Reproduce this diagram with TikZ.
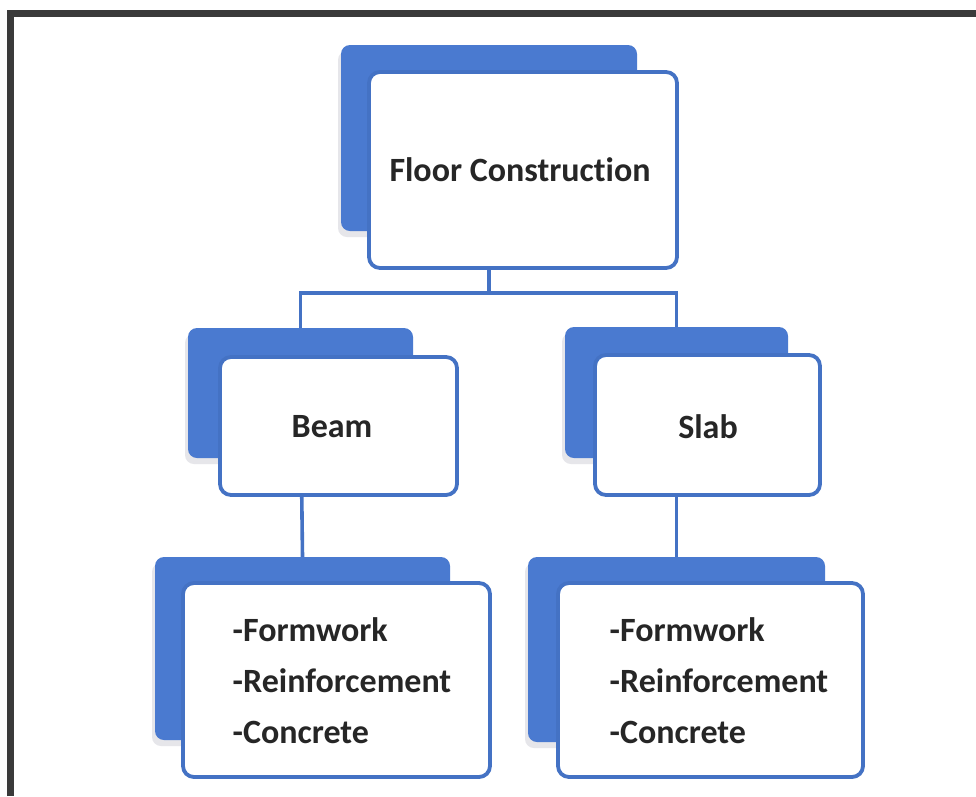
\documentclass[tikz,border=0pt]{standalone}
\usepackage{fontspec}
\setmainfont{Carlito}[Ligatures={NoCommon}]
\definecolor{boxline}{RGB}{68,114,196}
\definecolor{backfill}{RGB}{74,122,208}
\definecolor{frameclr}{RGB}{58,58,58}
\definecolor{txt}{RGB}{38,38,38}
\definecolor{shade}{RGB}{230,230,234}
\begin{document}
\begin{tikzpicture}[x=1pt,y=-1pt,
  backbox/.style={rectangle, rounded corners=9pt, fill=backfill, draw=none, inner sep=0pt},
  shadowbox/.style={rectangle, rounded corners=9pt, fill=shade, draw=none, inner sep=0pt},
  frontbox/.style={rectangle, rounded corners=11pt, fill=white, draw=boxline, line width=3.8pt, inner sep=0pt},
  label/.style={font=\bfseries\fontsize{34}{51}\selectfont, text=txt, align=left},
  link/.style={draw=boxline, line width=3.6pt}]
\useasboundingbox (0,0) rectangle (976,796);
\fill[white] (0,0) rectangle (976,796);
% frame
\draw[frameclr, line width=7pt] (10.5,796) -- (10.5,13.5) -- (976,13.5);

% shadows
\node[shadowbox, minimum width=296pt, minimum height=186pt] at (486,144) {};
\node[shadowbox, minimum width=225pt, minimum height=130pt] at (297.5,399) {};
\node[shadowbox, minimum width=223pt, minimum height=131pt] at (673.5,398.5) {};
\node[shadowbox, minimum width=295pt, minimum height=183pt] at (299.5,654.5) {};
\node[shadowbox, minimum width=297pt, minimum height=185pt] at (673.5,655.5) {};

% back boxes
\node[backbox, minimum width=296pt, minimum height=186pt] (topB) at (489,138) {};
\node[backbox, minimum width=225pt, minimum height=130pt] (beamB) at (300.5,393) {};
\node[backbox, minimum width=223pt, minimum height=131pt] (slabB) at (676.5,392.5) {};
\node[backbox, minimum width=295pt, minimum height=183pt] (blB) at (302.5,648.5) {};
\node[backbox, minimum width=297pt, minimum height=185pt] (brB) at (676.5,649.5) {};

% connectors
\coordinate (split) at (489,293);
\draw[link] (topB.center) -- (split);
\draw[link] (split) -| (beamB.north);
\draw[link] (split) -| (slabB.north);
\draw[link] (beamB.center) -- (blB.north);
\draw[link] (slabB.center) -- (brB.north);

% front boxes
\node[frontbox, minimum width=308pt, minimum height=196pt] (topF) at (523,170) {};
\node[frontbox, minimum width=237pt, minimum height=138pt] (beamF) at (338.5,426) {};
\node[frontbox, minimum width=225pt, minimum height=140pt] (slabF) at (707.5,425) {};
\node[frontbox, minimum width=307pt, minimum height=194pt] (blF) at (336.5,680) {};
\node[frontbox, minimum width=305pt, minimum height=194pt] (brF) at (710.5,680) {};

% texts
\node[label] (topT) at (520,170) {Floor Construction};
\node[label] (beamT) at (332,427) {Beam};
\node[label] (slabT) at (708,427) {Slab};
\node[label] (blT) at (342,681) {-Formwork\\-Reinforcement\\-Concrete};
\node[label] (brT) at (719,681) {-Formwork\\-Reinforcement\\-Concrete};
\end{tikzpicture}
\end{document}
